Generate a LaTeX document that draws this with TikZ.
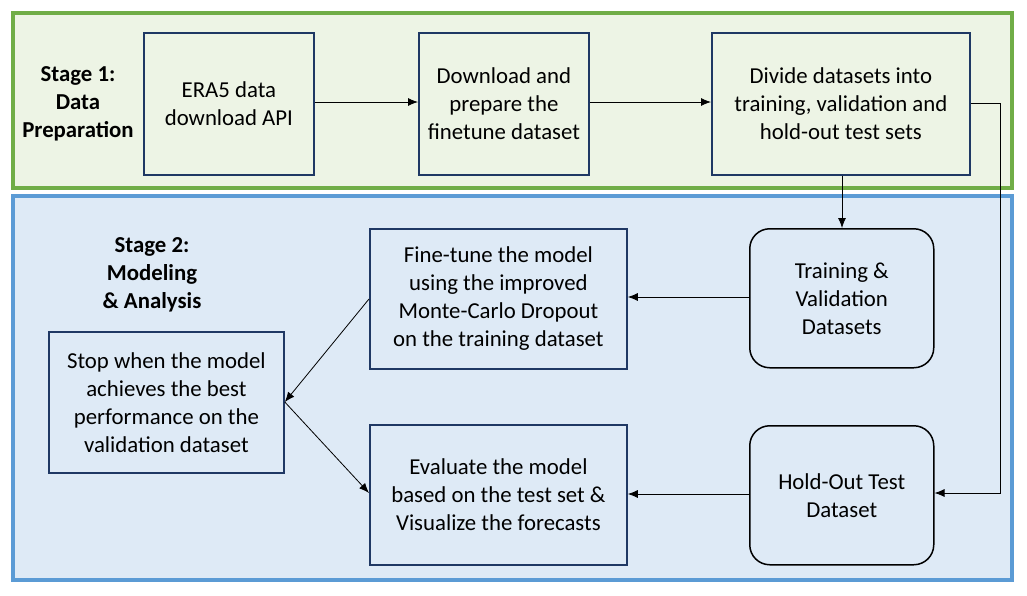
\documentclass[tikz,border=0pt]{standalone}
\usepackage{fontspec}
\setmainfont{Carlito}
\usetikzlibrary{arrows.meta}
\definecolor{gstroke}{HTML}{70AD47}
\definecolor{gfill}{HTML}{EDF4E5}
\definecolor{bstroke}{HTML}{5B9BD5}
\definecolor{bfill}{HTML}{DEEAF6}
\definecolor{navy}{HTML}{1F3864}
\begin{document}
\begin{tikzpicture}[x=1pt,y=-1pt,
  txt/.style={font=\fontsize{22.8}{28}\selectfont, align=center},
  sqbox/.style={txt, draw=navy, line width=1.8pt, inner sep=0pt, anchor=north west},
  rbox/.style={txt, draw=black, line width=1.5pt, rounded corners=20pt, inner sep=0pt, anchor=north west},
  lbl/.style={txt, font=\fontsize{22.8}{28}\selectfont\bfseries},
  conn/.style={line width=0.8pt, -{Latex[length=10pt,width=8pt]}}
]
\useasboundingbox (0,0) rectangle (1027,595);
\fill[white] (0,0) rectangle (1027,595);
% stage panels
\draw[draw=gstroke, fill=gfill, line width=3.5pt] (13,13) rectangle (1012,188);
\draw[draw=bstroke, fill=bfill, line width=3.5pt] (13,196) rectangle (1012,580);
% stage labels
\node[lbl] (s1) at (78,104) {Stage 1:\\Data\\Preparation};
\node[lbl] (s2) at (152,275) {Stage 2:\\Modeling\\\& Analysis};
% stage 1 boxes
\node[sqbox, minimum width=170pt, minimum height=142pt] (era) at (143,32) {ERA5 data\\download API};
\node[sqbox, minimum width=170pt, minimum height=142pt] (dl) at (418,32) {Download and\\prepare the\\finetune dataset};
\node[sqbox, minimum width=258pt, minimum height=142pt] (div) at (711,32) {Divide datasets into\\training, validation and\\hold-out test sets};
% stage 2 boxes
\node[rbox, minimum width=184pt, minimum height=139pt] (tv) at (749,228) {Training \&\\Validation\\Datasets};
\node[rbox, minimum width=184pt, minimum height=139pt] (ho) at (749,425) {Hold-Out Test\\Dataset};
\node[sqbox, minimum width=257pt, minimum height=140pt] (ft) at (369,228) {Fine-tune the model\\using the improved\\Monte-Carlo Dropout\\on the training dataset};
\node[sqbox, minimum width=257pt, minimum height=140pt] (ev) at (369,424) {Evaluate the model\\based on the test set \&\\Visualize the forecasts};
\node[sqbox, minimum width=235pt, minimum height=141pt] (st) at (48,331) {Stop when the model\\achieves the best\\performance on the\\validation dataset};
% connectors
\coordinate (c1) at (1000,103);
\coordinate (c2) at (1000,493);
\draw[conn] (era.east |- 0,102) -- (dl.west |- 0,102);
\draw[conn] (dl.east |- 0,102) -- (div.west |- 0,102);
\draw[conn] (div.south -| 842,0) -- (tv.north -| 842,0);
\draw[conn] (div.east |- c1) -- (c1) -- (c2) -- (ho.east |- c2);
\draw[conn] (tv.west |- 0,297) -- (ft.east |- 0,297);
\draw[conn] (ho.west |- 0,494) -- (ev.east |- 0,494);
\draw[conn] (ft.west |- 0,299) -- (st.east |- 0,402);
\draw[conn] (st.east |- 0,402) -- (ev.west |- 0,493);
\end{tikzpicture}
\end{document}
